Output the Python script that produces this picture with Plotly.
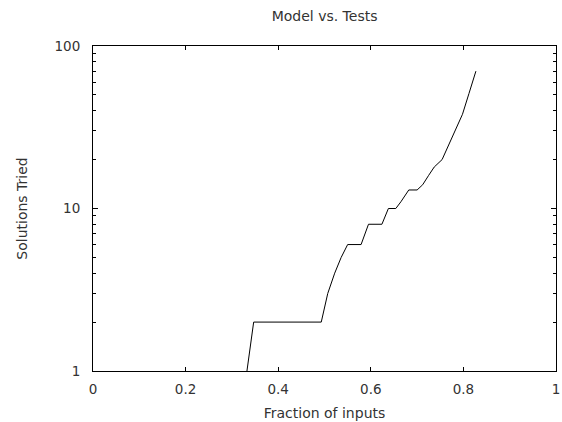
import plotly.graph_objects as go

fraction = [0.3325, 0.347, 0.493, 0.507, 0.522, 0.536, 0.550, 0.579, 0.595, 0.624,
            0.638, 0.654, 0.665, 0.682, 0.700, 0.712, 0.725, 0.737, 0.754, 0.775,
            0.798, 0.812, 0.827]
solutions = [1, 2, 2, 3, 4, 5, 6, 6, 8, 8,
             10, 10, 11, 13, 13, 14, 16, 18, 20, 27,
             38, 51, 70]

x_ticks = [0, 0.2, 0.4, 0.6, 0.8, 1]
x_tick_labels = ["0", "0.2", "0.4", "0.6", "0.8", "1"]
y_ticks = [1, 10, 100]
y_tick_labels = ["1", "10", "100"]
y_minor_ticks = [2, 3, 4, 5, 6, 7, 8, 9, 20, 30, 40, 50, 60, 70, 80, 90]

fig = go.Figure()
fig.add_trace(go.Scatter(x=fraction, y=solutions, mode="lines",
                         line=dict(color="black", width=1), showlegend=False))

fig.update_layout(
    width=562, height=422,
    margin=dict(l=93, r=6, t=46, b=51, autoexpand=False),
    paper_bgcolor="white", plot_bgcolor="white",
    font=dict(family="DejaVu Sans", size=13, color="#333333"),
    title=dict(text="Model vs. Tests", x=0.5775, xanchor="center", y=0.963, yanchor="middle",
               font=dict(family="DejaVu Sans", size=14, color="#333333")),
)
fig.update_xaxes(
    range=[0, 1], tickvals=x_ticks, ticktext=x_tick_labels, automargin=False,
    showgrid=False, zeroline=False, showline=True, linecolor="black", linewidth=1,
    mirror="ticks", ticks="inside", ticklen=4, tickcolor="black", ticklabelstandoff=6,
    tickfont=dict(size=13.5), title=dict(text="Fraction of inputs", standoff=11, font=dict(size=14)),
)
fig.update_yaxes(
    type="log", range=[0, 2], tickvals=y_ticks, ticktext=y_tick_labels, automargin=False,
    showgrid=False, zeroline=False, showline=True, linecolor="black", linewidth=1,
    mirror="ticks", ticks="inside", ticklen=5, tickcolor="black", ticklabelstandoff=9,
    minor=dict(tickvals=y_minor_ticks, ticks="inside", ticklen=3, tickcolor="black", showgrid=False),
    tickfont=dict(size=13.5), title=dict(text="Solutions Tried", standoff=23, font=dict(size=14)),
)

fig.write_html("out.html", config={"displayModeBar": False},
               post_script="document.body.style.margin='0px';document.body.style.overflow='hidden';")
